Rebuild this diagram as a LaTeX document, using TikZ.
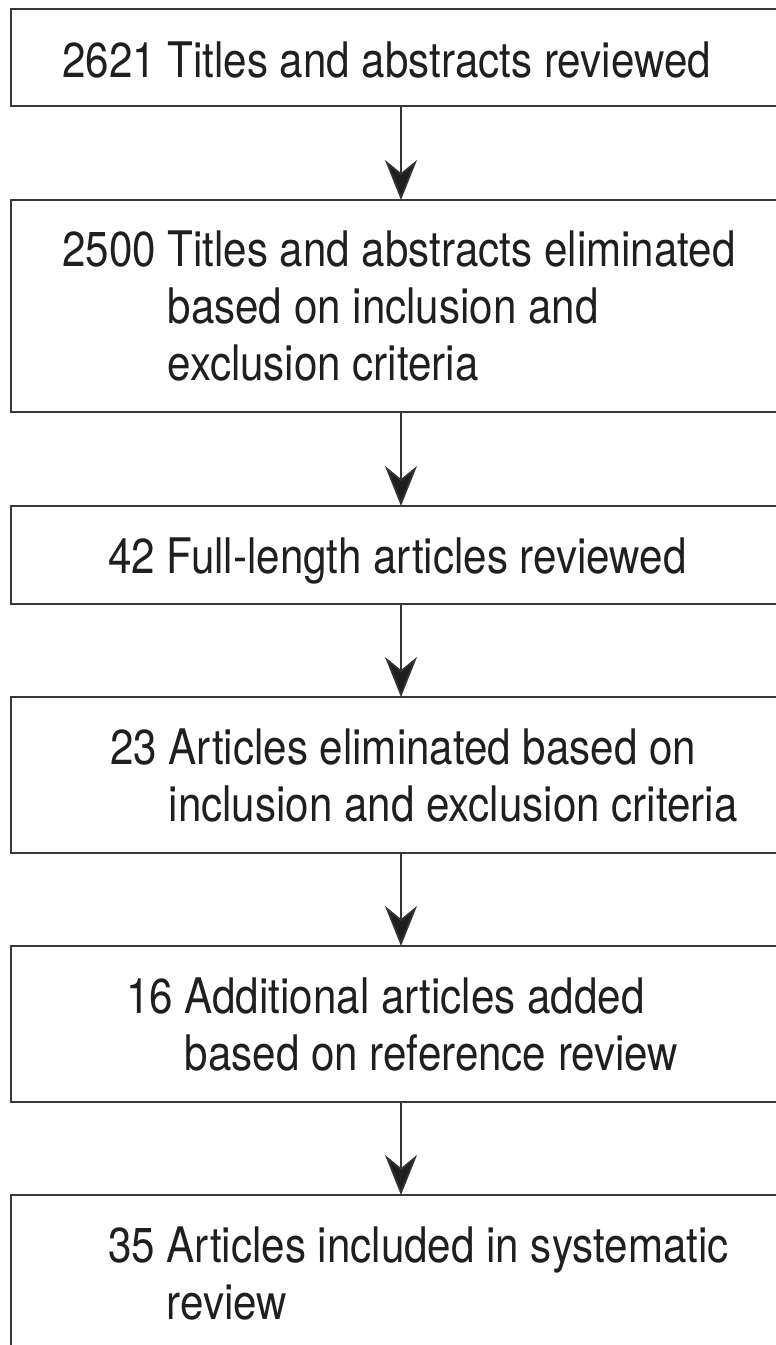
\documentclass[tikz,border=0pt]{standalone}
\usepackage{fontspec}
\setmainfont{TeX Gyre Heros}[FakeStretch=0.86]
\usetikzlibrary{arrows.meta}
\begin{document}
\begin{tikzpicture}[x=1pt,y=-1pt,
  boxst/.style={draw=black!78, line width=2.2pt, rectangle, inner sep=0pt, outer sep=0pt, anchor=north west, minimum width=780pt},
  txt/.style={anchor=base west, inner sep=0pt, text=black!88, font=\fontsize{49}{57}\selectfont},
  arr/.style={draw=black!80, line width=1.8pt, -{Stealth[length=40pt,width=32pt,inset=13pt,fill=black!88]}}]
\useasboundingbox (0,0) rectangle (776,1345);
\clip (0,0) rectangle (776,1345);
\fill[white] (0,0) rectangle (776,1345);
% boxes
\node[boxst, minimum height=97pt]  (b1) at (11,9) {};
\node[boxst, minimum height=212pt] (b2) at (11,200) {};
\node[boxst, minimum height=98pt]  (b3) at (11,506) {};
\node[boxst, minimum height=156pt] (b4) at (11,697) {};
\node[boxst, minimum height=156pt] (b5) at (11,946) {};
\node[boxst, minimum height=180pt] (b6) at (11,1195) {};
% texts
\node[txt] (t1) at (62,77) {2621 Titles and abstracts reviewed};
\node[txt] (t2) at (62,266) {\begin{tabular}[t]{@{}l@{\ }l@{}}2500 & Titles and abstracts eliminated\\ & based on inclusion and\\ & exclusion criteria\end{tabular}};
\node[txt] (t3) at (108,573) {42 Full-length articles reviewed};
\node[txt] (t4) at (110,764) {\begin{tabular}[t]{@{}l@{\ }l@{}}23 & Articles eliminated based on\\ & inclusion and exclusion criteria\end{tabular}};
\node[txt] (t5) at (126,1013) {\begin{tabular}[t]{@{}l@{\ }l@{}}16 & Additional articles added\\ & based on reference review\end{tabular}};
\node[txt] (t6) at (108,1262) {\begin{tabular}[t]{@{}l@{\ }l@{}}35 & Articles included in systematic\\ & review\end{tabular}};
% connectors
\draw[arr] (b1.south) -- (b2.north);
\draw[arr] (b2.south) -- (b3.north);
\draw[arr] (b3.south) -- (b4.north);
\draw[arr] (b4.south) -- (b5.north);
\draw[arr] (b5.south) -- (b6.north);
\end{tikzpicture}
\end{document}
